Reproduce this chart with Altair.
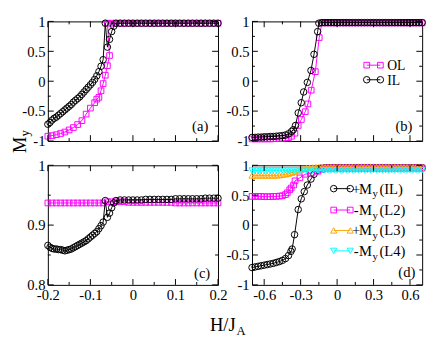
import altair as alt
import pandas as pd

FONT = "Liberation Serif"
W, H = 175, 123
MAG, BLK, ORG, CYN = "#ff00ff", "#000000", "#ffa500", "#00ffff"

# ---------------- panel (a) ----------------
a_il_x = [-0.200, -0.195, -0.190, -0.185, -0.180, -0.175, -0.170, -0.165, -0.160, -0.155,
          -0.150, -0.145, -0.140, -0.135, -0.130, -0.125, -0.120, -0.115, -0.110, -0.105,
          -0.100, -0.095, -0.090, -0.085, -0.080, -0.075, -0.070,
          -0.065, -0.060, -0.055, -0.050, -0.045,
          -0.04, -0.03, -0.02, -0.01, 0.00, 0.01, 0.02, 0.03, 0.04, 0.05, 0.06, 0.07, 0.08,
          0.09, 0.10, 0.11, 0.12, 0.13, 0.14, 0.15, 0.16, 0.17, 0.18, 0.19, 0.20]
a_il_y = [-0.72, -0.69, -0.65, -0.62, -0.60, -0.57, -0.54, -0.51, -0.48, -0.45,
          -0.42, -0.39, -0.35, -0.32, -0.29, -0.26, -0.22, -0.18, -0.14, -0.10,
          -0.06, -0.02, 0.03, 0.09, 0.16, 0.25, 0.36,
          0.97, 0.57, 0.70, 0.83, 0.92,
          0.97, 0.97, 0.97, 0.97, 0.97, 0.97, 0.97, 0.97, 0.97, 0.97, 0.97, 0.97, 0.97,
          0.97, 0.97, 0.97, 0.97, 0.97, 0.97, 0.97, 0.97, 0.97, 0.97, 0.97, 0.97]
a_ol_x = [-0.200, -0.190, -0.180, -0.170, -0.160, -0.150, -0.140, -0.130, -0.120, -0.110,
          -0.100, -0.090, -0.085, -0.080, -0.075, -0.070, -0.065, -0.060, -0.055,
          -0.06, -0.05, -0.04, -0.03, -0.02, -0.01, 0.00, 0.01, 0.02, 0.03, 0.04, 0.05, 0.06,
          0.07, 0.08, 0.09, 0.10, 0.11, 0.12, 0.13, 0.14, 0.15, 0.16, 0.17, 0.18, 0.19, 0.20]
a_ol_y = [-0.92, -0.91, -0.895, -0.875, -0.85, -0.815, -0.775, -0.725, -0.66, -0.55,
          -0.45, -0.36, -0.30, -0.27, -0.16, -0.04, 0.10, 0.26, 0.43,
          0.97, 0.97, 0.97, 0.97, 0.97, 0.97, 0.97, 0.97, 0.97, 0.97, 0.97, 0.97, 0.97,
          0.97, 0.97, 0.97, 0.97, 0.97, 0.97, 0.97, 0.97, 0.97, 0.97, 0.97, 0.97, 0.97, 0.97]

# ---------------- panel (b) ----------------
b_il_x = [-0.700, -0.675, -0.650, -0.625, -0.600, -0.575, -0.550, -0.525, -0.500, -0.475,
          -0.450, -0.425, -0.400, -0.375, -0.360, -0.342, -0.320, -0.295, -0.275, -0.245,
          -0.215, -0.190, -0.160, -0.150,
          -0.125, -0.100, -0.075, -0.050, -0.025, 0.000, 0.025, 0.050, 0.075, 0.100, 0.125,
          0.150, 0.175, 0.200, 0.225, 0.250, 0.275, 0.300, 0.325, 0.350, 0.375, 0.400, 0.425,
          0.450, 0.475, 0.500, 0.525, 0.550, 0.575, 0.600, 0.625, 0.650, 0.675, 0.700]
b_il_y = [-0.94, -0.94, -0.935, -0.935, -0.93, -0.93, -0.925, -0.925, -0.92, -0.915,
          -0.91, -0.90, -0.88, -0.84, -0.81, -0.74, -0.53, -0.36, -0.18, -0.02,
          0.18, 0.45, 0.83, 0.97,
          0.98, 0.98, 0.98, 0.98, 0.98, 0.98, 0.98, 0.98, 0.98, 0.98, 0.98,
          0.98, 0.98, 0.98, 0.98, 0.98, 0.98, 0.98, 0.98, 0.98, 0.98, 0.98, 0.98,
          0.98, 0.98, 0.98, 0.98, 0.98, 0.98, 0.98, 0.98, 0.98, 0.98, 0.98]
b_ol_x = [-0.700, -0.675, -0.650, -0.625, -0.600, -0.575, -0.550, -0.525, -0.500, -0.475,
          -0.450, -0.425, -0.400, -0.375, -0.347, -0.320, -0.294, -0.262, -0.240, -0.213,
          -0.179, -0.147,
          -0.125, -0.100, -0.075, -0.050, -0.025, 0.000, 0.025, 0.050, 0.075, 0.100, 0.125,
          0.150, 0.175, 0.200, 0.225, 0.250, 0.275, 0.300, 0.325, 0.350, 0.375, 0.400, 0.425,
          0.450, 0.475, 0.500, 0.525, 0.550, 0.575, 0.600, 0.625, 0.650, 0.675, 0.700]
b_ol_y = [-0.965, -0.965, -0.965, -0.965, -0.965, -0.965, -0.965, -0.962, -0.96, -0.958,
          -0.955, -0.95, -0.945, -0.92, -0.87, -0.74, -0.64, -0.51, -0.38, -0.15,
          0.16, 0.73,
          0.975, 0.975, 0.975, 0.975, 0.975, 0.975, 0.975, 0.975, 0.975, 0.975, 0.975,
          0.975, 0.975, 0.975, 0.975, 0.975, 0.975, 0.975, 0.975, 0.975, 0.975, 0.975, 0.975,
          0.975, 0.975, 0.975, 0.975, 0.975, 0.975, 0.975, 0.975, 0.975, 0.975, 0.975]

# ---------------- panel (c) ----------------
c_il_x = [-0.200, -0.195, -0.190, -0.185, -0.180, -0.175, -0.170, -0.165, -0.160, -0.155,
          -0.150, -0.145, -0.140, -0.135, -0.130, -0.125, -0.120, -0.115, -0.110, -0.105,
          -0.100, -0.095, -0.090, -0.085, -0.080, -0.075, -0.070,
          -0.065, -0.060, -0.055, -0.050, -0.045,
          -0.04, -0.03, -0.02, -0.01, 0.00, 0.01, 0.02, 0.03, 0.04, 0.05, 0.06, 0.07, 0.08,
          0.09, 0.10, 0.11, 0.12, 0.13, 0.14, 0.15, 0.16, 0.17, 0.18, 0.19, 0.20]
c_il_y = [0.866, 0.863, 0.861, 0.860, 0.860, 0.859, 0.859, 0.858, 0.857, 0.858,
          0.859, 0.860, 0.862, 0.864, 0.866, 0.868, 0.870, 0.872, 0.874, 0.877,
          0.880, 0.883, 0.886, 0.889, 0.894, 0.899, 0.905,
          0.941, 0.913, 0.920, 0.929, 0.937,
          0.941, 0.942, 0.942, 0.942, 0.942, 0.942, 0.942, 0.943, 0.943, 0.943, 0.943, 0.943, 0.943,
          0.943, 0.944, 0.944, 0.944, 0.944, 0.944, 0.944, 0.944, 0.945, 0.945, 0.945, 0.945]
c_ol_x = [-0.20, -0.19, -0.18, -0.17, -0.16, -0.15, -0.14, -0.13, -0.12, -0.11, -0.10,
          -0.09, -0.08, -0.07, -0.06, -0.05, -0.04, -0.03, -0.02, -0.01, 0.00, 0.01, 0.02,
          0.03, 0.04, 0.05, 0.06, 0.07, 0.08, 0.09, 0.10, 0.11, 0.12, 0.13, 0.14, 0.15,
          0.16, 0.17, 0.18, 0.19, 0.20]
c_ol_y = [0.937, 0.937, 0.937, 0.937, 0.937, 0.937, 0.937, 0.937, 0.937, 0.937, 0.937,
          0.937, 0.937, 0.937, 0.939, 0.939, 0.939, 0.939, 0.939, 0.938, 0.938, 0.938, 0.938,
          0.938, 0.938, 0.938, 0.938, 0.938, 0.938, 0.938, 0.937, 0.937, 0.937, 0.937, 0.937, 0.937,
          0.937, 0.937, 0.937, 0.937, 0.937]

# ---------------- panel (d) ----------------
d_grid_x = [-0.700, -0.675, -0.650, -0.625, -0.600, -0.575, -0.550, -0.525, -0.500, -0.475,
            -0.450, -0.425, -0.400, -0.375, -0.350, -0.325, -0.300, -0.275, -0.250, -0.225,
            -0.200, -0.175, -0.150, -0.125, -0.100, -0.075, -0.050, -0.025, 0.000, 0.025,
            0.050, 0.075, 0.100, 0.125, 0.150, 0.175, 0.200, 0.225, 0.250, 0.275, 0.300,
            0.325, 0.350, 0.375, 0.400, 0.425, 0.450, 0.475, 0.500, 0.525, 0.550, 0.575,
            0.600, 0.625, 0.650, 0.675, 0.700]
d_il_x = [-0.700, -0.675, -0.650, -0.625, -0.600, -0.575, -0.550, -0.525, -0.500, -0.475,
          -0.450, -0.425, -0.400, -0.380, -0.370, -0.350, -0.320, -0.295, -0.270, -0.245,
          -0.215, -0.190, -0.160, -0.135,
          -0.100, -0.075, -0.050, -0.025, 0.000, 0.025, 0.050, 0.075, 0.100, 0.125, 0.150,
          0.175, 0.200, 0.225, 0.250, 0.275, 0.300, 0.325, 0.350, 0.375, 0.400, 0.425, 0.450,
          0.475, 0.500, 0.525, 0.550, 0.575, 0.600, 0.625, 0.650, 0.675, 0.700]
d_il_y = [-0.71, -0.70, -0.69, -0.68, -0.67, -0.66, -0.65, -0.64, -0.625, -0.61,
          -0.59, -0.56, -0.51, -0.44, -0.40, -0.16, 0.26, 0.44, 0.56, 0.67,
          0.77, 0.85, 0.92, 0.95,
          0.96, 0.96, 0.96, 0.96, 0.96, 0.96, 0.96, 0.96, 0.96, 0.96, 0.96,
          0.96, 0.96, 0.96, 0.96, 0.96, 0.96, 0.96, 0.96, 0.96, 0.96, 0.96, 0.96,
          0.96, 0.96, 0.96, 0.96, 0.96, 0.96, 0.96, 0.96, 0.96, 0.96]
d_l2_x = [-0.700, -0.675, -0.650, -0.625, -0.600, -0.575, -0.550, -0.525, -0.500, -0.475,
          -0.450, -0.425, -0.410, -0.390, -0.378, -0.358, -0.346, -0.306, -0.266, -0.212,
          -0.158, -0.125,
          -0.100, -0.075, -0.050, -0.025, 0.000, 0.025, 0.050, 0.075, 0.100, 0.125, 0.150,
          0.175, 0.200, 0.225, 0.250, 0.275, 0.300, 0.325, 0.350, 0.375, 0.400, 0.425, 0.450,
          0.475, 0.500, 0.525, 0.550, 0.575, 0.600, 0.625, 0.650, 0.675, 0.700]
d_l2_y = [0.48, 0.48, 0.48, 0.48, 0.475, 0.475, 0.475, 0.48, 0.48, 0.485,
          0.49, 0.51, 0.54, 0.59, 0.62, 0.67, 0.74, 0.79, 0.85, 0.87,
          0.90, 0.93,
          0.955, 0.955, 0.955, 0.955, 0.955, 0.955, 0.955, 0.955, 0.955, 0.955, 0.955,
          0.955, 0.955, 0.955, 0.955, 0.955, 0.955, 0.955, 0.955, 0.955, 0.955, 0.955, 0.955,
          0.955, 0.955, 0.955, 0.955, 0.955, 0.955, 0.955, 0.955, 0.955, 0.955]
d_l3_y = [0.83, 0.83, 0.83, 0.83, 0.83, 0.83, 0.83, 0.83, 0.83, 0.835,
          0.84, 0.85, 0.86, 0.875, 0.89, 0.91, 0.93, 0.945, 0.955, 0.96,
          0.965, 0.97, 0.97, 0.97, 0.97, 0.97, 0.97, 0.97, 0.97, 0.97,
          0.97, 0.97, 0.97, 0.97, 0.97, 0.97, 0.97, 0.97, 0.97, 0.97, 0.97,
          0.97, 0.97, 0.97, 0.97, 0.97, 0.97, 0.97, 0.97, 0.97, 0.97, 0.97,
          0.97, 0.97, 0.97, 0.97, 0.97]
d_l4_y = [0.913, 0.913, 0.913, 0.913, 0.914, 0.914, 0.914, 0.914, 0.915, 0.915,
          0.915, 0.915, 0.915, 0.915, 0.915, 0.916, 0.916, 0.916, 0.916, 0.916,
          0.917, 0.917, 0.917, 0.917, 0.917, 0.918, 0.918, 0.918, 0.918, 0.918,
          0.918, 0.918, 0.918, 0.918, 0.918, 0.918, 0.919, 0.919, 0.919, 0.919, 0.919,
          0.919, 0.919, 0.919, 0.919, 0.919, 0.92, 0.92, 0.92, 0.92, 0.92, 0.92,
          0.92, 0.92, 0.92, 0.92, 0.92]

# ---------------- ticks ----------------
ac_x_major = [-0.2, -0.1, 0.0, 0.1, 0.2]
ac_x_minor = [-0.15, -0.05, 0.05, 0.15]
bd_x_major = [-0.6, -0.3, 0.0, 0.3, 0.6]
bd_x_minor = [-0.45, -0.15, 0.15, 0.45]
y_major = [-1.0, -0.5, 0.0, 0.5, 1.0]
y_minor = [-0.75, -0.25, 0.25, 0.75]
c_y_major = [0.8, 0.9, 1.0]
c_y_minor = [0.85, 0.95]

LABEL_EXPR = "datum.value < 0 ? '-' + format(-datum.value, '~g') : format(datum.value, '~g')"
DUMMY = pd.DataFrame({"d": [0]})


def make_axis(values):
    return alt.Axis(values=values, labelExpr=LABEL_EXPR, ticks=False, domain=False, grid=False,
                    labelFont=FONT, labelFontSize=15, labelColor="black", labelPadding=3,
                    labelOverlap=False, labelFlush=False)


def enc_factory(domain, axis, channel):
    def f(field):
        sc = alt.Scale(domain=domain, nice=False, zero=False)
        if channel == "x":
            return alt.X(f"{field}:Q", scale=sc, axis=axis, title=None)
        return alt.Y(f"{field}:Q", scale=sc, axis=axis, title=None)
    return f


def series(x, y, color, shape, size, xs, ys):
    df = pd.DataFrame({"x": x, "y": y, "i": list(range(len(x)))})
    base = alt.Chart(df)
    line = base.mark_line(color=color, strokeWidth=1).encode(x=xs("x"), y=ys("y"), order="i:Q")
    pts = base.mark_point(color=color, shape=shape, size=size, filled=False, strokeWidth=1,
                          opacity=1).encode(x=xs("x"), y=ys("y"))
    return [line, pts]


def ticks(xmaj, xmin, ymaj, ymin, xs, ys):
    out = []
    for vals, L in ((xmaj, 6), (xmin, 3)):
        df = pd.DataFrame({"t": vals})
        out.append(alt.Chart(df).mark_rule(color="black", strokeWidth=1).encode(
            x=xs("t"), y=alt.value(H), y2=alt.value(H - L)))
        out.append(alt.Chart(df).mark_rule(color="black", strokeWidth=1).encode(
            x=xs("t"), y=alt.value(0), y2=alt.value(L)))
    for vals, L in ((ymaj, 6), (ymin, 3)):
        df = pd.DataFrame({"t": vals})
        out.append(alt.Chart(df).mark_rule(color="black", strokeWidth=1).encode(
            y=ys("t"), x=alt.value(0), x2=alt.value(L)))
        out.append(alt.Chart(df).mark_rule(color="black", strokeWidth=1).encode(
            y=ys("t"), x=alt.value(W), x2=alt.value(W - L)))
    return out


def txt(s, x, y, size=15, align="left", baseline="middle", angle=0):
    return alt.Chart(DUMMY).mark_text(text=s, font=FONT, fontSize=size, align=align,
                                      baseline=baseline, angle=angle, color="black").encode(
        x=alt.value(x), y=alt.value(y))


def legend_item(x0, x1, y, color, shape, size):
    out = [alt.Chart(DUMMY).mark_rule(color=color, strokeWidth=1).encode(
        x=alt.value(x0), x2=alt.value(x1), y=alt.value(y))]
    for xx in (x0, x1):
        out.append(alt.Chart(DUMMY).mark_point(color=color, shape=shape, size=size, filled=False,
                                               strokeWidth=1, opacity=1).encode(
            x=alt.value(xx), y=alt.value(y)))
    return out


SZ_C, SZ_S, SZ_T = 45, 34, 40

# invisible anchor fixing the top-left corner of the layout bounds
anchor = alt.Chart(DUMMY).mark_rule(opacity=0).encode(
    x=alt.value(-40), x2=alt.value(-39), y=alt.value(-8))

# panel (a)
xa = enc_factory([-0.2, 0.2], None, "x")
ya = enc_factory([-1, 1], make_axis(y_major), "y")
layers_a = (series(a_ol_x, a_ol_y, MAG, "square", SZ_S, xa, ya)
            + series(a_il_x, a_il_y, BLK, "circle", SZ_C, xa, ya)
            + ticks(ac_x_major, ac_x_minor, y_major, y_minor, xa, ya)
            + [txt("(a)", W - 10, H - 15, align="right"),
               txt("M", -29, 127, size=19, align="center", angle=270),
               txt("y", -23, 115, size=13, align="center", angle=270),
               anchor])
pa = alt.layer(*layers_a).properties(width=W, height=H)

# panel (b)
xb = enc_factory([-0.7, 0.7], None, "x")
yb = enc_factory([-1, 1], make_axis(y_major), "y")
layers_b = (series(b_ol_x, b_ol_y, MAG, "square", SZ_S, xb, yb)
            + series(b_il_x, b_il_y, BLK, "circle", SZ_C, xb, yb)
            + ticks(bd_x_major, bd_x_minor, y_major, y_minor, xb, yb)
            + legend_item(118, 132, 45, MAG, "square", SZ_S)
            + legend_item(118, 132, 60, BLK, "circle", SZ_C)
            + [txt("OL", 139, 46, size=14), txt("IL", 139, 61, size=14),
               txt("(b)", W - 10, H - 15, align="right")])
pb = alt.layer(*layers_b).properties(width=W, height=H)

# panel (c)
xc = enc_factory([-0.2, 0.2], make_axis(ac_x_major), "x")
yc = enc_factory([0.8, 1.0], make_axis(c_y_major), "y")
layers_c = (series(c_ol_x, c_ol_y, MAG, "square", SZ_S, xc, yc)
            + series(c_il_x, c_il_y, BLK, "circle", SZ_C, xc, yc)
            + ticks(ac_x_major, ac_x_minor, c_y_major, c_y_minor, xc, yc)
            + [txt("(c)", W - 8, H - 12, align="right"),
               txt("H/J", 180, 170, size=19, align="center", baseline="alphabetic"),
               txt("A", 194, 175, size=13, align="left", baseline="alphabetic")])
pc = alt.layer(*layers_c).properties(width=W, height=H)

# panel (d)
xd = enc_factory([-0.7, 0.7], make_axis(bd_x_major), "x")
yd = enc_factory([-1, 1], make_axis(y_major), "y")
legend_d = []
rows = [("+", "(IL)", BLK, "circle", SZ_C, 24), ("-", "(L2)", MAG, "square", SZ_S, 46),
        ("+", "(L3)", ORG, "triangle-up", SZ_T, 67), ("-", "(L4)", CYN, "triangle-down", SZ_T, 88)]
for sign, lab, col, shp, sz, ry in rows:
    legend_d += legend_item(84, 101, ry, col, shp, sz)
    legend_d += [txt(sign, 107, ry, align="center"), txt("M", 110, ry),
                 txt("y", 124, ry + 6, size=11), txt(lab, 131, ry)]
layers_d = (series(d_il_x, d_il_y, BLK, "circle", SZ_C, xd, yd)
            + series(d_l2_x, d_l2_y, MAG, "square", SZ_S, xd, yd)
            + series(d_grid_x, d_l3_y, ORG, "triangle-up", SZ_T, xd, yd)
            + series(d_grid_x, d_l4_y, CYN, "triangle-down", SZ_T, xd, yd)
            + ticks(bd_x_major, bd_x_minor, y_major, y_minor, xd, yd)
            + legend_d
            + [txt("(d)", W - 7, H - 13, align="right")])
pd_ = alt.layer(*layers_d).properties(width=W, height=H)

chart = alt.concat(pa, pb, pc, pd_, columns=2, bounds="flush",
                   spacing=alt.RowColnumber(row=25, column=35)).properties(
    padding={"left": 0, "top": 0, "right": 0, "bottom": 0}
).configure_view(stroke="black", strokeWidth=1)

chart.save("out.html", embed_options={"renderer": "svg", "actions": False})
